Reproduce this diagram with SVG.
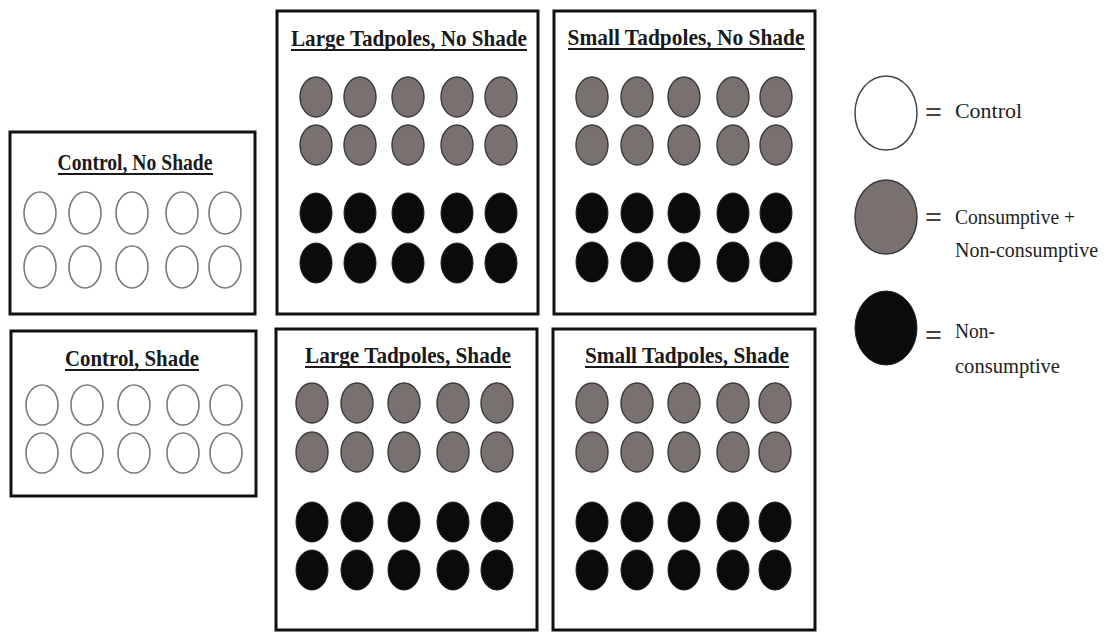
<svg xmlns="http://www.w3.org/2000/svg" width="1115" height="632" viewBox="0 0 1115 632">
<style>
.box{fill:#fff;stroke:#111;stroke-width:3}
.t{font-family:"Liberation Serif",serif;font-weight:bold;font-size:24px;fill:#1a1a1a;text-anchor:middle}
.ul{stroke:#1a1a1a;stroke-width:2}
.c{fill:#fff;stroke:#7a7a7a;stroke-width:1.6}
.g{fill:#78716f;stroke:#3a3a3a;stroke-width:1.4}
.k{fill:#0b0b0b;stroke:#222;stroke-width:1}
.lg{font-family:"Liberation Serif",serif;font-size:22px;fill:#222}
.eq{font-family:"Liberation Serif",serif;font-size:30px;font-weight:bold;fill:#444}
</style>
<rect width="1115" height="632" fill="#fff"/>

<g id="control-no-shade">
<rect class="box" x="10" y="132" width="245" height="182"/>
<text class="t" x="135" y="170" textLength="155" lengthAdjust="spacingAndGlyphs">Control, No Shade</text>
<line class="ul" x1="58" y1="174" x2="213" y2="174"/>
<g class="c">
<ellipse cx="40" cy="213" rx="16" ry="21"/><ellipse cx="85" cy="213" rx="16" ry="21"/><ellipse cx="132" cy="213" rx="16" ry="21"/><ellipse cx="182" cy="213" rx="16" ry="21"/><ellipse cx="225" cy="213" rx="16" ry="21"/>
<ellipse cx="40" cy="267" rx="16" ry="21"/><ellipse cx="85" cy="267" rx="16" ry="21"/><ellipse cx="132" cy="267" rx="16" ry="21"/><ellipse cx="182" cy="267" rx="16" ry="21"/><ellipse cx="225" cy="267" rx="16" ry="21"/>
</g>
</g>

<g id="control-shade">
<rect class="box" x="11" y="331" width="245" height="165"/>
<text class="t" x="132" y="366" textLength="134" lengthAdjust="spacingAndGlyphs">Control, Shade</text>
<line class="ul" x1="65" y1="370" x2="199" y2="370"/>
<g class="c">
<ellipse cx="42" cy="405" rx="16" ry="20"/><ellipse cx="87" cy="405" rx="16" ry="20"/><ellipse cx="134" cy="405" rx="16" ry="20"/><ellipse cx="183" cy="405" rx="16" ry="20"/><ellipse cx="226" cy="405" rx="16" ry="20"/>
<ellipse cx="42" cy="453" rx="16" ry="20"/><ellipse cx="87" cy="453" rx="16" ry="20"/><ellipse cx="134" cy="453" rx="16" ry="20"/><ellipse cx="183" cy="453" rx="16" ry="20"/><ellipse cx="226" cy="453" rx="16" ry="20"/>
</g>
</g>

<g id="large-no-shade">
<rect class="box" x="277" y="11" width="261" height="303"/>
<text class="t" x="409" y="46" textLength="236" lengthAdjust="spacingAndGlyphs">Large Tadpoles, No Shade</text>
<line class="ul" x1="291" y1="50" x2="527" y2="50"/>
<g class="g">
<ellipse cx="316" cy="97" rx="16" ry="20"/><ellipse cx="360" cy="97" rx="16" ry="20"/><ellipse cx="408" cy="97" rx="16" ry="20"/><ellipse cx="457" cy="97" rx="16" ry="20"/><ellipse cx="501" cy="97" rx="16" ry="20"/>
<ellipse cx="316" cy="145" rx="16" ry="20"/><ellipse cx="360" cy="145" rx="16" ry="20"/><ellipse cx="408" cy="145" rx="16" ry="20"/><ellipse cx="457" cy="145" rx="16" ry="20"/><ellipse cx="501" cy="145" rx="16" ry="20"/>
</g>
<g class="k">
<ellipse cx="316" cy="213" rx="16" ry="20"/><ellipse cx="360" cy="213" rx="16" ry="20"/><ellipse cx="408" cy="213" rx="16" ry="20"/><ellipse cx="457" cy="213" rx="16" ry="20"/><ellipse cx="501" cy="213" rx="16" ry="20"/>
<ellipse cx="316" cy="263" rx="16" ry="20"/><ellipse cx="360" cy="263" rx="16" ry="20"/><ellipse cx="408" cy="263" rx="16" ry="20"/><ellipse cx="457" cy="263" rx="16" ry="20"/><ellipse cx="501" cy="263" rx="16" ry="20"/>
</g>
</g>

<g id="small-no-shade">
<rect class="box" x="554" y="11" width="261" height="303"/>
<text class="t" x="686" y="45" textLength="237" lengthAdjust="spacingAndGlyphs">Small Tadpoles, No Shade</text>
<line class="ul" x1="568" y1="49" x2="805" y2="49"/>
<g class="g">
<ellipse cx="592" cy="97" rx="16" ry="20"/><ellipse cx="637" cy="97" rx="16" ry="20"/><ellipse cx="684" cy="97" rx="16" ry="20"/><ellipse cx="733" cy="97" rx="16" ry="20"/><ellipse cx="776" cy="97" rx="16" ry="20"/>
<ellipse cx="592" cy="145" rx="16" ry="20"/><ellipse cx="637" cy="145" rx="16" ry="20"/><ellipse cx="684" cy="145" rx="16" ry="20"/><ellipse cx="733" cy="145" rx="16" ry="20"/><ellipse cx="776" cy="145" rx="16" ry="20"/>
</g>
<g class="k">
<ellipse cx="592" cy="213" rx="16" ry="20"/><ellipse cx="637" cy="213" rx="16" ry="20"/><ellipse cx="684" cy="213" rx="16" ry="20"/><ellipse cx="733" cy="213" rx="16" ry="20"/><ellipse cx="776" cy="213" rx="16" ry="20"/>
<ellipse cx="592" cy="262" rx="16" ry="20"/><ellipse cx="637" cy="262" rx="16" ry="20"/><ellipse cx="684" cy="262" rx="16" ry="20"/><ellipse cx="733" cy="262" rx="16" ry="20"/><ellipse cx="776" cy="262" rx="16" ry="20"/>
</g>
</g>

<g id="large-shade">
<rect class="box" x="276" y="329" width="261" height="301"/>
<text class="t" x="408" y="363" textLength="206" lengthAdjust="spacingAndGlyphs">Large Tadpoles, Shade</text>
<line class="ul" x1="305" y1="367" x2="511" y2="367"/>
<g class="g">
<ellipse cx="312" cy="403" rx="16" ry="20"/><ellipse cx="357" cy="403" rx="16" ry="20"/><ellipse cx="404" cy="403" rx="16" ry="20"/><ellipse cx="453" cy="403" rx="16" ry="20"/><ellipse cx="497" cy="403" rx="16" ry="20"/>
<ellipse cx="312" cy="452" rx="16" ry="20"/><ellipse cx="357" cy="452" rx="16" ry="20"/><ellipse cx="404" cy="452" rx="16" ry="20"/><ellipse cx="453" cy="452" rx="16" ry="20"/><ellipse cx="497" cy="452" rx="16" ry="20"/>
</g>
<g class="k">
<ellipse cx="312" cy="522" rx="16" ry="20"/><ellipse cx="357" cy="522" rx="16" ry="20"/><ellipse cx="404" cy="522" rx="16" ry="20"/><ellipse cx="453" cy="522" rx="16" ry="20"/><ellipse cx="497" cy="522" rx="16" ry="20"/>
<ellipse cx="312" cy="570" rx="16" ry="20"/><ellipse cx="357" cy="570" rx="16" ry="20"/><ellipse cx="404" cy="570" rx="16" ry="20"/><ellipse cx="453" cy="570" rx="16" ry="20"/><ellipse cx="497" cy="570" rx="16" ry="20"/>
</g>
</g>

<g id="small-shade">
<rect class="box" x="553" y="329" width="262" height="301"/>
<text class="t" x="687" y="363" textLength="204" lengthAdjust="spacingAndGlyphs">Small Tadpoles, Shade</text>
<line class="ul" x1="585" y1="367" x2="789" y2="367"/>
<g class="g">
<ellipse cx="592" cy="403" rx="16" ry="20"/><ellipse cx="637" cy="403" rx="16" ry="20"/><ellipse cx="684" cy="403" rx="16" ry="20"/><ellipse cx="733" cy="403" rx="16" ry="20"/><ellipse cx="775" cy="403" rx="16" ry="20"/>
<ellipse cx="592" cy="452" rx="16" ry="20"/><ellipse cx="637" cy="452" rx="16" ry="20"/><ellipse cx="684" cy="452" rx="16" ry="20"/><ellipse cx="733" cy="452" rx="16" ry="20"/><ellipse cx="775" cy="452" rx="16" ry="20"/>
</g>
<g class="k">
<ellipse cx="592" cy="522" rx="16" ry="20"/><ellipse cx="637" cy="522" rx="16" ry="20"/><ellipse cx="684" cy="522" rx="16" ry="20"/><ellipse cx="733" cy="522" rx="16" ry="20"/><ellipse cx="775" cy="522" rx="16" ry="20"/>
<ellipse cx="592" cy="570" rx="16" ry="20"/><ellipse cx="637" cy="570" rx="16" ry="20"/><ellipse cx="684" cy="570" rx="16" ry="20"/><ellipse cx="733" cy="570" rx="16" ry="20"/><ellipse cx="775" cy="570" rx="16" ry="20"/>
</g>
</g>

<g id="legend-control">
<ellipse cx="886" cy="113" rx="31" ry="37" fill="#fff" stroke="#444" stroke-width="1.5"/>
<text class="eq" x="925" y="122">=</text>
<text class="lg" x="955" y="118" textLength="67" lengthAdjust="spacingAndGlyphs">Control</text>
</g>
<g id="legend-gray">
<ellipse cx="886" cy="217" rx="31" ry="37" fill="#78716f" stroke="#3a3a3a" stroke-width="1.5"/>
<text class="eq" x="925" y="227">=</text>
<text class="lg" x="955" y="224" textLength="120" lengthAdjust="spacingAndGlyphs">Consumptive +</text>
<text class="lg" x="955" y="257" textLength="143" lengthAdjust="spacingAndGlyphs">Non-consumptive</text>
</g>
<g id="legend-black">
<ellipse cx="886" cy="328" rx="31" ry="37" fill="#0b0b0b" stroke="#222" stroke-width="1"/>
<text class="eq" x="925" y="345">=</text>
<text class="lg" x="955" y="338" textLength="40" lengthAdjust="spacingAndGlyphs">Non-</text>
<text class="lg" x="955" y="373" textLength="105" lengthAdjust="spacingAndGlyphs">consumptive</text>
</g>
<g id="connectors"/>
</svg>
